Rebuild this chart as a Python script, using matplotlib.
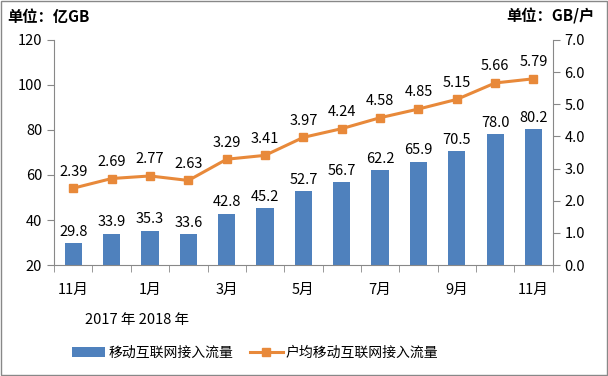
import numpy as np
import matplotlib
matplotlib.use('Agg')
import matplotlib.pyplot as plt
from matplotlib.patches import Rectangle

plt.rcParams['font.family'] = ['Noto Sans CJK SC', 'DejaVu Sans']

# 数据：2017年11月 - 2018年11月
months = ['11月', '12月', '1月', '2月', '3月', '4月', '5月', '6月', '7月', '8月', '9月', '10月', '11月']
traffic = [29.8, 33.9, 35.3, 33.6, 42.8, 45.2, 52.7, 56.7, 62.2, 65.9, 70.5, 78.0, 80.2]
per_user = [2.39, 2.69, 2.77, 2.63, 3.29, 3.41, 3.97, 4.24, 4.58, 4.85, 5.15, 5.66, 5.79]

bar_color = '#4F81BD'
line_color = '#E8893A'

fig = plt.figure(figsize=(6.08, 3.76), dpi=100)
ax1 = fig.add_axes([0.089, 0.295, 0.82, 0.599])
ax2 = ax1.twinx()

x = np.arange(len(months))
ax1.bar(x, traffic, width=0.45, color=bar_color, zorder=2, label='移动互联网接入流量')
for xi, v in zip(x, traffic):
    ax1.text(xi, v + 2, f'{v:.1f}', ha='center', va='bottom', fontsize=10.5)

ax2.plot(x, per_user, color=line_color, lw=2.2, marker='s', markersize=6,
         label='户均移动互联网接入流量', zorder=3)
for xi, v in zip(x, per_user):
    ax2.text(xi, v + 0.3, f'{v:.2f}', ha='center', va='bottom', fontsize=10.5)

ax1.set_xlim(-0.5, len(months) - 0.5)
ax1.set_ylim(20, 120)
ax1.set_yticks(range(20, 121, 20))
ax2.set_ylim(0, 7)
ax2.set_yticks(np.arange(0, 7.1, 1.0))
ax2.set_yticklabels([f'{v:.1f}' for v in np.arange(0, 7.1, 1.0)])

# x 轴：类别标签隔一个显示，刻度线在类别之间
ax1.set_xticks(x[::2])
ax1.set_xticklabels([months[i] for i in x[::2]], fontsize=10.5)
ax1.set_xticks(np.arange(-0.5, len(months), 1), minor=True)
ax1.tick_params(axis='x', which='major', length=0, pad=13)
ax1.tick_params(axis='x', which='minor', length=5, color='#888888', direction='out')

for ax in (ax1, ax2):
    ax.spines['top'].set_visible(False)
    ax.spines['left'].set_color('#888888')
    ax.spines['right'].set_color('#888888')
    ax.spines['bottom'].set_color('#888888')
    ax.tick_params(axis='y', colors='#888888', labelcolor='black', labelsize=10.5, length=5)

ax1.spines['right'].set_visible(False)
ax2.spines['left'].set_visible(False)
ax2.spines['bottom'].set_visible(False)

fig.text(0.012, 0.955, '单位：亿GB', fontsize=11, fontweight='bold', ha='left', va='center')
fig.text(0.978, 0.955, '单位：GB/户', fontsize=11, fontweight='bold', ha='right', va='center')
fig.text(0.14, 0.148, '2017 年 2018 年', fontsize=10.5, ha='left', va='center')

h1, l1 = ax1.get_legend_handles_labels()
h2, l2 = ax2.get_legend_handles_labels()
fig.legend(h1 + h2, l1 + l2, loc='center', bbox_to_anchor=(0.42, 0.062), ncol=2,
           frameon=False, fontsize=10, handlelength=2.4, handletextpad=0.2,
           columnspacing=1.2)

# 外框
fig.patches.append(Rectangle((0.002, 0.003), 0.996, 0.994, transform=fig.transFigure,
                             fill=False, edgecolor='#888888', lw=1))

fig.savefig('out.png', dpi=100)
